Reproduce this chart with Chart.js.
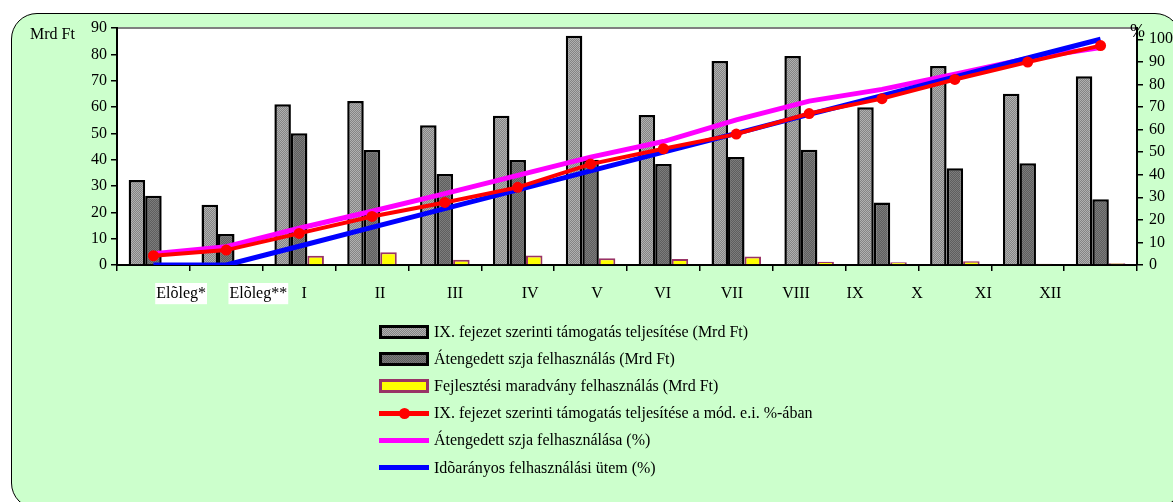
<!DOCTYPE html>
<html>
<head>
<meta charset="utf-8">
<script src="https://cdn.jsdelivr.net/npm/chart.js@4/dist/chart.umd.min.js"></script>
<style>
html,body{margin:0;padding:0;background:#fff;width:1173px;height:502px;overflow:hidden;font-family:"Liberation Serif","Times New Roman",serif;color:#000;}
#frame{position:absolute;left:11px;top:13px;width:1170px;height:496px;background:#ccffcc;border:1.5px solid #000;border-radius:26px;box-sizing:border-box;}
#c{position:absolute;left:0;top:0;}
.lbl{position:absolute;font-size:16px;line-height:20px;white-space:nowrap;}
#legend{position:absolute;left:379px;top:318px;}
.row{height:27.2px;display:flex;align-items:center;font-size:16px;white-space:nowrap;}
.sw{width:50px;height:14px;margin-right:5px;position:relative;box-sizing:border-box;flex:none;}
.ln{position:absolute;left:0;right:0;top:4.5px;height:5px;}
.dot{position:absolute;left:19.5px;top:1.5px;width:11px;height:11px;border-radius:50%;}
</style>
</head>
<body>
<div id="frame"></div>
<canvas id="c" width="1173" height="320" style="width:1173px;height:320px"></canvas>
<div class="lbl" style="left:30px;top:24px;">Mrd Ft</div>
<div class="lbl" style="left:1130px;top:21px;font-size:18px;">%</div>
<div id="legend"></div>
<script>
const categories = ['Elõleg*','Elõleg**','I','II','III','IV','V','VI','VII','VIII','IX','X','XI','XII'];
const ixTeljesites = [32.3, 22.9, 61.0, 62.3, 53.1, 56.7, 87.1, 57.0, 77.5, 79.4, 59.9, 75.6, 65.0, 71.7];
const szjaFelhasznalas = [26.3, 11.8, 50.0, 43.7, 34.6, 39.9, 40.0, 38.4, 41.0, 43.8, 23.7, 36.7, 38.6, 25.0];
const fejlMaradvany = [0, 0, 3.5, 4.8, 2.0, 3.6, 2.6, 2.3, 3.2, 1.2, 1.0, 1.4, 0.5, 0.7];
const ixSzazalek = [4.1, 6.6, 14.0, 21.5, 27.7, 34.4, 44.7, 51.5, 58.0, 67.1, 73.7, 82.2, 89.9, 97.2];
const szjaSzazalek = [5.0, 8.1, 16.3, 23.8, 31.6, 39.7, 47.8, 54.7, 64.3, 72.6, 77.8, 84.5, 91.5, 96.3];
const idoaranyos = [0, 0, 8.3, 16.7, 25, 33.3, 41.7, 50, 58.3, 66.7, 75, 83.3, 91.7, 100];
const leftTicks = [0, 10, 20, 30, 40, 50, 60, 70, 80, 90];
const rightTicks = [0, 10, 20, 30, 40, 50, 60, 70, 80, 90, 100];
// x-label positions in category units (where the labels sit in the picture)
const labelPos = [0.38, 1.44, 2.07, 3.11, 4.14, 5.17, 6.09, 6.99, 7.94, 8.82, 9.63, 10.48, 11.39, 12.31];

function checker(a, b) {
  const c = document.createElement('canvas'); c.width = 2; c.height = 2;
  const x = c.getContext('2d');
  x.fillStyle = a; x.fillRect(0, 0, 2, 2);
  x.fillStyle = b; x.fillRect(0, 0, 1, 1); x.fillRect(1, 1, 1, 1);
  return x.createPattern(c, 'repeat');
}

Chart.defaults.font.family = '"Liberation Serif","Times New Roman",serif';
Chart.defaults.font.size = 16;
Chart.defaults.color = '#000';

const plotBg = {
  id: 'plotBg',
  beforeDraw(chart) {
    const {ctx, chartArea: a} = chart;
    ctx.save();
    ctx.fillStyle = '#fff';
    ctx.fillRect(a.left, a.top, a.right - a.left, a.bottom - a.top);
    ctx.strokeStyle = '#808080'; ctx.lineWidth = 2;
    ctx.beginPath(); ctx.moveTo(a.left, a.top); ctx.lineTo(a.right, a.top); ctx.stroke();
    ctx.restore();
  }
};

const htmlLegend = {
  id: 'htmlLegend',
  afterUpdate(chart) {
    const box = document.getElementById('legend');
    box.innerHTML = '';
    chart.data.datasets.forEach(ds => {
      const row = document.createElement('div'); row.className = 'row';
      const sw = document.createElement('div'); sw.className = 'sw';
      if (ds.type === 'line') {
        const l = document.createElement('div'); l.className = 'ln'; l.style.background = ds.borderColor; sw.appendChild(l);
        if (ds.pointRadius > 0) { const d = document.createElement('div'); d.className = 'dot'; d.style.background = ds.pointBackgroundColor; sw.appendChild(d); }
      } else {
        sw.style.background = ds.legendCss; sw.style.border = '3px solid ' + ds.borderColor;
      }
      const t = document.createElement('span'); t.textContent = ds.label;
      row.appendChild(sw); row.appendChild(t); box.appendChild(row);
    });
  }
};

new Chart(document.getElementById('c'), {
  type: 'bar',
  data: {
    labels: categories,
    datasets: [
      { type: 'bar', label: 'IX. fejezet szerinti támogatás teljesítése (Mrd Ft)', data: ixTeljesites, yAxisID: 'y', xAxisID: 'x',
        backgroundColor: checker('#848484', '#b0b0b0'), legendCss: 'repeating-conic-gradient(#848484 0 25%, #b0b0b0 0 50%) 0 0/2px 2px',
        borderColor: '#000', borderWidth: 2.5, categoryPercentage: 0.68, barPercentage: 1, order: 10 },
      { type: 'bar', label: 'Átengedett szja felhasználás (Mrd Ft)', data: szjaFelhasznalas, yAxisID: 'y', xAxisID: 'x',
        backgroundColor: checker('#5e5e5e', '#7c7c7c'), legendCss: 'repeating-conic-gradient(#5e5e5e 0 25%, #7c7c7c 0 50%) 0 0/2px 2px',
        borderColor: '#000', borderWidth: 2.5, categoryPercentage: 0.68, barPercentage: 1, order: 10 },
      { type: 'bar', label: 'Fejlesztési maradvány felhasználás (Mrd Ft)', data: fejlMaradvany, yAxisID: 'y', xAxisID: 'x',
        backgroundColor: '#ffff00', legendCss: '#ffff00',
        borderColor: '#993366', borderWidth: 2, categoryPercentage: 0.68, barPercentage: 1, order: 10 },
      { type: 'line', label: 'IX. fejezet szerinti támogatás teljesítése a mód. e.i. %-ában', data: ixSzazalek, yAxisID: 'y2', xAxisID: 'x',
        borderColor: '#ff0000', borderWidth: 4, pointRadius: 5.5, pointBackgroundColor: '#ff0000', pointBorderWidth: 0, tension: 0, order: 1 },
      { type: 'line', label: 'Átengedett szja felhasználása (%)', data: szjaSzazalek, yAxisID: 'y2', xAxisID: 'x',
        borderColor: '#ff00ff', borderWidth: 5, pointRadius: 0, tension: 0, order: 3 },
      { type: 'line', label: 'Idõarányos felhasználási ütem (%)', data: idoaranyos, yAxisID: 'y2', xAxisID: 'x',
        borderColor: '#0000ff', borderWidth: 5, pointRadius: 0, tension: 0, order: 2 }
    ]
  },
  options: {
    responsive: false,
    animation: false,
    layout: { padding: { top: 28, bottom: 7, left: 0, right: 0 } },
    plugins: { legend: { display: false }, tooltip: { enabled: false } },
    scales: {
      x: {
        type: 'category', position: 'bottom', offset: true,
        grid: { display: true, drawOnChartArea: false, offset: true, tickLength: 6, color: '#000', lineWidth: 1.5 },
        border: { display: true, color: '#000', width: 2 },
        ticks: { display: false },
        afterFit(s) { s.height = 8; }
      },
      xl: {
        type: 'linear', position: 'bottom', min: -0.5, max: 13.5, offset: false,
        grid: { display: false, drawTicks: false, offset: false },
        border: { display: false },
        afterBuildTicks(s) { s.ticks = labelPos.map(v => ({ value: v })); },
        ticks: {
          autoSkip: false, maxRotation: 0, padding: 11,
          callback: (v, i) => categories[i],
          showLabelBackdrop: (ctx) => ctx.index < 2,
          backdropColor: '#ffffff',
          backdropPadding: { top: 1, bottom: 1, left: 1, right: 1 }
        },
        afterFit(s) { s.height = 40; }
      },
      y: {
        type: 'linear', position: 'left', min: 0, max: 90,
        grid: { drawOnChartArea: false, tickLength: 6, color: '#000', lineWidth: 1.5 },
        border: { display: true, color: '#000', width: 2 },
        ticks: { padding: 4 },
        afterBuildTicks(s) { s.ticks = leftTicks.map(v => ({ value: v })); },
        afterFit(s) { s.width = 117; }
      },
      y2: {
        type: 'linear', position: 'right', min: 0, max: 105,
        grid: { drawOnChartArea: false, tickLength: 6, color: '#000', lineWidth: 1.5 },
        border: { display: true, color: '#000', width: 2 },
        ticks: { padding: 6 },
        afterBuildTicks(s) { s.ticks = rightTicks.map(v => ({ value: v })); },
        afterFit(s) { s.width = 36; }
      }
    }
  },
  plugins: [plotBg, htmlLegend]
});
</script>
</body>
</html>
